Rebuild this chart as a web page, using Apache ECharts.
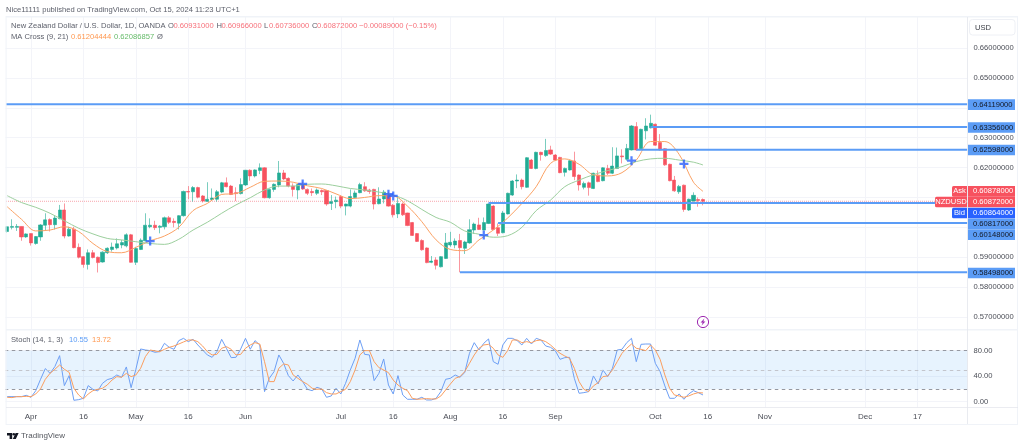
<!DOCTYPE html>
<html><head><meta charset="utf-8">
<style>html,body{margin:0;padding:0;background:#fff}#c{width:1024px;height:447px}</style>
<script src="https://cdn.jsdelivr.net/npm/echarts@6/dist/echarts.min.js"></script></head>
<body><div id="c"></div><script>
const opens=[.5986,.6000,.6000,.6003,.5968,.5979,.5946,.5968,.6007,.6026,
.6009,.6029,.6058,.5971,.5994,.5933,.5902,.5876,.5915,.5900,
.5884,.5915,.5926,.5931,.5941,.5938,.5975,.5883,.5926,.5955,
.6002,.6007,.6000,.6002,.6032,.6020,.6014,.6039,.6120,.6119,
.6133,.6105,.6087,.6093,.6094,.6118,.6149,.6138,.6116,.6113,
.6142,.6191,.6172,.6190,.6199,.6099,.6127,.6142,.6182,.6164,
.6138,.6125,.6143,.6127,.6120,.6114,.6123,.6123,.6080,.6086,
.6103,.6071,.6071,.6100,.6116,.6136,.6125,.6127,.6079,.6095,
.6108,.6074,.6045,.6078,.6048,.6016,.5979,.5956,.5931,.5883,
.5891,.5868,.5896,.5941,.5941,.5956,.5930,.5948,.5991,.6008,
.5991,.6013,.6071,.5999,.5982,.6045,.6108,.6155,.6158,.6134,
.6225,.6197,.6251,.6240,.6259,.6242,.6234,.6184,.6192,.6222,
.6175,.6134,.6149,.6130,.6175,.6156,.6197,.6181,.6197,.6239,
.6228,.6259,.6337,.6263,.6323,.6333,.6345,.6284,.6263,.6211,
.6158,.6119,.6141,.6058,.6088,.6093,.60931];
const closes=[.6002,.6003,.6003,.5968,.5978,.5948,.5969,.6008,.6025,.6009,
.6031,.6058,.5971,.5994,.5932,.5900,.5876,.5915,.5899,.5882,
.5917,.5930,.5934,.5945,.5949,.5975,.5883,.5929,.5957,.6007,
.6007,.5999,.6004,.6032,.6017,.6016,.6039,.6120,.6118,.6133,
.6101,.6088,.6094,.6098,.6119,.6149,.6136,.6110,.6113,.6143,
.6191,.6172,.6192,.6199,.6099,.6127,.6144,.6182,.6162,.6138,
.6127,.6143,.6128,.6114,.6116,.6125,.6119,.6078,.6086,.6091,
.6071,.6078,.6103,.6115,.6143,.6122,.6120,.6078,.6095,.6118,
.6071,.6042,.6080,.6042,.6006,.5973,.5953,.5925,.5882,.5887,
.5873,.5902,.5948,.5950,.5954,.5932,.5951,.5992,.6011,.5993,
.6016,.6078,.5993,.5980,.6048,.6114,.6155,.6158,.6136,.6233,
.6197,.6251,.6243,.6257,.6245,.6225,.6183,.6197,.6223,.6170,
.6142,.6147,.6133,.6181,.6153,.6199,.6181,.6205,.6239,.6236,
.6264,.6339,.6259,.6328,.6339,.6348,.6275,.6259,.6209,.6156,
.6122,.6137,.6060,.6094,.6107,.6090,.60872];
const highs=[.6004,.6027,.6011,.6004,.5980,.5980,.5971,.6011,.6047,.6030,
.6041,.6075,.6080,.6002,.6002,.5946,.5904,.5926,.5924,.5902,
.5920,.5933,.5949,.5963,.5958,.5980,.5978,.5935,.5963,.6047,
.6030,.6022,.6007,.6036,.6038,.6030,.6041,.6123,.6138,.6138,
.6136,.6108,.6151,.6130,.6125,.6152,.6167,.6142,.6134,.6164,
.6192,.6194,.6194,.6214,.6201,.6130,.6147,.6222,.6192,.6167,
.6147,.6147,.6153,.6130,.6130,.6130,.6127,.6125,.6108,.6103,
.6108,.6079,.6127,.6123,.6149,.6151,.6129,.6129,.6134,.6125,
.6119,.6078,.6103,.6083,.6049,.6018,.5981,.5960,.5933,.5904,
.5900,.5904,.5981,.5985,.5963,.5978,.5955,.6027,.6016,.6032,
.6033,.6080,.6074,.6013,.6055,.6116,.6158,.6177,.6163,.6235,
.6229,.6253,.6253,.6296,.6273,.6245,.6236,.6200,.6225,.6253,
.6177,.6153,.6153,.6183,.6190,.6201,.6209,.6268,.6267,.6261,
.6279,.6342,.6352,.6330,.6365,.6377,.6347,.6312,.6265,.6213,
.6172,.6142,.6143,.6096,.6117,.6100,.60966];
const lows=[.5982,.5993,.5988,.5955,.5965,.5939,.5942,.5955,.5991,.5986,
.5993,.6027,.5963,.5969,.5930,.5896,.5865,.5859,.5896,.5849,
.5882,.5911,.5919,.5926,.5930,.5933,.5882,.5874,.5924,.5953,
.5997,.5991,.5980,.5993,.6011,.6000,.5993,.6036,.6094,.6086,
.6097,.6083,.6085,.6089,.6086,.6114,.6134,.6108,.6088,.6110,
.6138,.6156,.6167,.6178,.6097,.6096,.6119,.6134,.6158,.6134,
.6103,.6094,.6125,.6108,.6105,.6108,.6108,.6072,.6058,.6064,
.6064,.6040,.6067,.6097,.6114,.6119,.6112,.6060,.6077,.6080,
.6069,.6033,.6031,.6038,.6004,.5971,.5951,.5922,.5880,.5880,
.5859,.5866,.5894,.5935,.5930,.58498,.5911,.5945,.5978,.5991,
.5990,.6011,.5991,.5971,.5980,.6043,.6105,.6131,.6127,.6132,
.6195,.6194,.6223,.6236,.6242,.6223,.6181,.6170,.6190,.6158,
.6123,.6127,.6106,.6128,.6151,.6154,.6175,.6178,.6195,.6214,
.6223,.6257,.6257,.6261,.6294,.6331,.6273,.6257,.6206,.6154,
.6119,.6112,.6052,.6055,.6086,.6069,.60736];
const maBars=[0,3,6,9,12,15,18,21,24,27,30,33,36,39,42,45,48,51,54,57,60,63,66,69,72,75,78,81,84,87,90,93,96,99,102,105,108,111,114,117,120,123,126,129,132,135,138,141,144,146];
const maFast=[.6069,.6027,.5988,.5991,.6002,.5986,.5946,.5919,.5915,.5933,
.5955,.5971,.6000,.6056,.6080,.6110,.6113,.6134,.6154,.6155,
.6151,.6139,.6130,.6112,.6096,.6100,.6106,.6105,.6071,.6019,
.5958,.5926,.5922,.5958,.5991,.6031,.6080,.6136,.6214,.6229,
.6211,.6176,.6172,.6183,.6225,.6287,.6287,.6244,.6151,.61204];
const maSlow=[.6106,.6083,.6067,.6047,.6022,.5997,.5978,.5963,.5958,.5952,
.5946,.5943,.5960,.5991,.6017,.6047,.6075,.6099,.6125,.6138,
.6138,.6144,.6145,.6139,.6130,.6125,.6118,.6108,.6089,.6060,
.6033,.6017,.5988,.5977,.5967,.5972,.6000,.6056,.6091,.6136,
.6158,.6176,.6190,.6203,.6220,.6229,.6231,.6225,.6218,.62087];
const stochK=[7.9,7.9,7.9,7.9,10,6.9,17.3,35.1,51.9,44.5,55,72.2,25.2,40.9,2.2,3.2,5.3,25.2,19.4,16.8,
28.8,34.6,36.7,41.9,38.3,54.5,22,50.8,82.7,81.1,80.1,77.5,78.5,91.6,85.3,82.2,95.8,99.4,94.2,97.9,
89,81.1,73.3,69.6,78.5,97.9,83.8,69.1,69.6,82.7,99.4,82.2,95.8,89,15.8,36.7,47.2,73.3,60.2,40.9,
32.5,41.9,31.5,19.4,17.3,22.6,20,6.9,9,21,
12.1,28.8,49.8,68.1,96.8,74.3,73.3,33,44.5,67,26.2,12.1,40.9,10.5,3.8,3.8,3.8,6.9,2.7,2.7,
5.3,15.8,35.1,36.7,41.9,38.3,45.6,75.9,92.6,81.1,91.6,98.4,62.8,58.7,89,99.4,99.4,95.8,89,99.4,
90.5,99.4,96.8,87.4,85.3,80.1,66.5,69.1,69.6,36.7,13.2,14.2,15.8,40.4,27.8,49.8,39.3,52.4,81.1,82.2,
92.6,99.4,62.8,90,90.5,90.5,60.2,47.2,24.7,5.3,5.3,12.1,3.8,12.1,17.3,14.2,10.55];
const stochD=[6.9,6.4,7.9,7.9,8.4,7.9,12.1,20,35.1,44.5,50.8,57.6,50.8,46.1,21,10.5,4.3,12.1,17.3,19.4,
21,26.2,34,39.3,38.3,44.5,39.3,41.9,52.4,70.7,81.1,79.6,78.5,82.2,85.3,87.4,90.5,93.7,96.8,96.8,
94.2,87.4,78.5,73.3,74.3,83.8,86.4,82.2,73.3,74.3,83.8,89,92.6,90.5,62.8,31.5,31.5,52.4,59.2,57.6,
41.9,36.7,31.5,27.3,21,19.4,20,14.2,12.1,12.1,
15.8,19.4,31.5,49.8,73.3,80.1,80.1,62.8,53.4,49.8,45.6,34,26.2,21,17.3,5.3,3.8,4.3,4.8,4.3,
4.3,9,18.4,27.8,36.7,39.3,47.2,60.2,73.3,83.8,89,90,83.8,73.3,69.6,80.1,96.8,96.8,92.6,94.2,
92.6,95.8,96.8,94.2,89,82.2,75.9,71.7,68.1,52.4,31.5,19.4,15.8,24.7,29.9,39.3,40.4,49.8,62.8,75.9,
83.8,90.5,83.8,82.2,80.1,89,81.1,66.5,41.9,21,10.5,9,6.9,9,12.1,14.2,13.72];
const crossBars=[30,62,80,81,100,131,142];
const crossPrices=[.5954,.6145,.6111,.6105,.5974,.6223,.6212];
const rayPrices=[.64119,.63356,.62598,.60817,.60148,.58498];
const rayStarts=[-0.25,135,132,101,103,95];
const priceTicks=[.57,.58,.59,.60,.61,.62,.63,.64,.65,.66];
const hiddenPriceTicks=[.60,.61,.64];
const stochTicks=[0,40,80];
const timeLabels={'2024-04-01':'Apr','2024-04-16':'16','2024-05-01':'May','2024-05-16':'16','2024-06-03':'Jun','2024-07-01':'Jul','2024-07-16':'16','2024-08-01':'Aug','2024-08-16':'16','2024-09-02':'Sep','2024-10-01':'Oct','2024-10-16':'16','2024-11-01':'Nov','2024-12-02':'Dec','2024-12-17':'17'};

[opens,closes,highs,lows,stochK,stochD].forEach(a=>{if(a.length!==147)throw new Error('len '+a.length)});
if(maFast.length!==maBars.length||maSlow.length!==maBars.length)throw new Error('ma');

const categories=[];
for(let d=new Date(Date.UTC(2024,2,25));categories.length<202;d=new Date(d.getTime()+864e5)){
  const w=d.getUTCDay(); if(w===0||w===6)continue; categories.push(d.toISOString().slice(0,10));
}
const FONT='"Liberation Sans",Arial,sans-serif';
const GREEN='#22ab94',RED='#f7525f',HEADRED='#f7707a',LINE='#5b9cf6',GRID='#f3f4f9',BORDER='#e4e6ed',TXT='#5d606b';
const isTick=(i,v)=>timeLabels[v]!==undefined;
const candles=opens.map((o,i)=>[o,closes[i],lows[i],highs[i]]);

const G=[];
const txt=(x,y,t,fill,size=7.6,align='left',weight='normal')=>G.push({type:'text',silent:true,z:50,style:{x,y,text:t,fill,font:weight+' '+size+'px '+FONT,textAlign:align,textVerticalAlign:'middle'}});
const rect=(x,y,w,h,fill,r=0,stroke)=>G.push({type:'rect',silent:true,z:40,shape:{x,y,width:w,height:h,r},style:{fill,stroke}});

// frame
rect(0,0,5.5,447,'#fff');
rect(6,16,1012,1.6,'#f0f3f8');rect(6,329,1012,1.6,'#f0f3f8');
rect(5.6,16,1,409,'#f0f3f8');rect(1017,16,1,409,'#f0f3f8');rect(6,424,1012,1,'#f0f3f8');
rect(967,17,.8,407,BORDER);rect(6,407,1012,.8,BORDER);

txt(6,9.5,'Nice11111 published on TradingView.com, Oct 15, 2024 11:23 UTC+1',TXT);
txt(11,26,'New Zealand Dollar / U.S. Dollar, 1D, OANDA',TXT);
[[168,'O',173.5,'0.60931000'],[216.5,'H',221.5,'0.60966000'],[264,'L',269,'0.60736000'],[312,'C',317,'0.60872000']].forEach(a=>{txt(a[0],26,a[1],TXT);txt(a[2],26,a[3],HEADRED);});
txt(359,26,'\u22120.00089000 (\u22120.15%)',HEADRED);
txt(11,37,'MA Cross (9, 21)',TXT);txt(71,37,'0.61204444','#ff9850');txt(114,37,'0.62086857','#66bb6a');txt(157,37,'\u00d8',TXT);
txt(11,340,'Stoch (14, 1, 3)',TXT);txt(69,340,'10.55',LINE);txt(92,340,'13.72','#ff9850');
txt(21,436,'TradingView','#55585f',8);

// USD box
rect(969.5,19.5,45.5,15.5,'#fff',3,'#eef0f5');txt(975,28,'USD','#3a3d45',7.6);

// right badges
const badge=(yc,t,bg,fg)=>{rect(968,yc-5.3,47,10.6,bg);txt(973,yc,t,fg,7.6);};
[[104.6,'0.64119000'],[127.5,'0.63356000'],[150,'0.62598000'],[223.8,'0.60817000'],[234.6,'0.60148000'],[273,'0.58498000']].forEach(a=>badge(a[0],a[1],LINE,'#131722'));
badge(191.4,'0.60878000',RED,'#fff');badge(202,'0.60872000',RED,'#fff');badge(213,'0.60864000','#2962ff','#fff');
const flag=(x,yc,t,bg)=>{rect(x,yc-5.3,967-x,10.6,bg,[1.5,0,0,1.5]);txt((x+967)/2,yc,t,'#fff',7.6,'center');};
flag(952,191.4,'Ask',RED);flag(935,202,'NZDUSD',RED);flag(952,213,'Bid','#2962ff');

// logos
G.push({type:'polygon',silent:true,z:50,shape:{points:[[7,433],[12.2,433],[12.2,439],[9.6,439],[9.6,435.5],[7,435.5]]},style:{fill:'#131722'}});
G.push({type:'circle',silent:true,z:50,shape:{cx:13.8,cy:434.3,r:1.3},style:{fill:'#131722'}});
G.push({type:'polygon',silent:true,z:50,shape:{points:[[15.6,433],[18.6,433],[15.8,439],[12.8,439]]},style:{fill:'#131722'}});
G.push({type:'circle',silent:true,z:50,shape:{cx:703,cy:322,r:5.6},style:{fill:'#fff',stroke:'#9c27b0',lineWidth:1}});
G.push({type:'polygon',silent:true,z:51,shape:{points:[[704.4,318.6],[700.6,322.6],[702.7,322.6],[701.6,325.5],[705.4,321.4],[703.3,321.4]]},style:{fill:'#9c27b0'}});

const xBase={type:'category',data:categories,boundaryGap:true,axisTick:{show:false},
  axisLine:{show:false},
  splitLine:{show:true,interval:isTick,alignWithLabel:true,lineStyle:{color:GRID,width:1}}};

const option={animation:false,backgroundColor:'#fff',textStyle:{fontFamily:FONT},
 grid:[{left:4.8,top:17,width:962.7,height:312},{left:4.8,top:331,width:962.7,height:76.3}],
 xAxis:[
  Object.assign({},xBase,{gridIndex:0,axisLabel:{show:false,interval:isTick}}),
  Object.assign({},xBase,{gridIndex:1,axisLabel:{show:true,interval:isTick,margin:5,fontSize:8,color:'#4a4d56',fontFamily:FONT,formatter:v=>timeLabels[v]||''}}),
  {type:'value',gridIndex:0,min:-0.5,max:201.5,show:false,splitLine:{show:false}}
 ],
 yAxis:[
  {type:'value',gridIndex:0,position:'right',min:0.56599,max:0.67037,scale:true,axisLine:{show:false},
   axisTick:{show:false,customValues:priceTicks},
   axisLabel:{customValues:priceTicks,margin:6,fontSize:7.6,color:'#4a4d56',fontFamily:FONT,showMinLabel:true,showMaxLabel:true,
     formatter:v=>hiddenPriceTicks.some(h=>Math.abs(h-v)<1e-6)?'':v.toFixed(8)},
   splitLine:{show:true,lineStyle:{color:GRID,width:1}}},
  {type:'value',gridIndex:1,position:'right',min:-8.8,max:110.9,axisLine:{show:false},
   axisTick:{show:false,customValues:stochTicks},
   axisLabel:{customValues:stochTicks,margin:6,fontSize:7.6,color:'#4a4d56',fontFamily:FONT,formatter:v=>v.toFixed(2)},
   splitLine:{show:true,lineStyle:{color:GRID,width:1}}}
 ],
 series:[
  {name:'NZDUSD',type:'candlestick',xAxisIndex:0,yAxisIndex:0,barWidth:3.6,data:candles,z:3,
   itemStyle:{color:GREEN,color0:RED,borderColor:'rgba(34,171,148,.6)',borderColor0:'rgba(247,82,95,.6)',borderWidth:1}},
  {name:'Last',type:'line',xAxisIndex:2,yAxisIndex:0,showSymbol:false,silent:true,z:2,
   data:[[-0.25,closes[closes.length-1]],[201.5,closes[closes.length-1]]],
   lineStyle:{color:'#f7a5ac',type:'dotted',width:1}},
  {name:'MA9',type:'line',xAxisIndex:0,yAxisIndex:0,data:maBars.map((b,i)=>[b,maFast[i]]),smooth:.35,showSymbol:false,z:4,lineStyle:{color:'#fba265',width:1}},
  {name:'MA21',type:'line',xAxisIndex:0,yAxisIndex:0,data:maBars.map((b,i)=>[b,maSlow[i]]),smooth:.35,showSymbol:false,z:4,lineStyle:{color:'#9ccf9d',width:1}},
  {name:'Cross',type:'scatter',xAxisIndex:0,yAxisIndex:0,data:crossBars.map((b,i)=>[b,crossPrices[i]]),z:6,
   symbol:'path://M3 0h2v3h3v2h-3v3h-2v-3h-3v-2h3z',symbolSize:9,itemStyle:{color:'#2962ff'}},
 ].concat(rayPrices.map((p,i)=>({name:'ray'+i,type:'line',xAxisIndex:2,yAxisIndex:0,showSymbol:false,silent:true,z:5,
     data:[[rayStarts[i],p],[201.5,p]],lineStyle:{color:LINE,width:2}}))).concat([
  {name:'%K',type:'line',xAxisIndex:1,yAxisIndex:1,data:stochK,showSymbol:false,z:4,lineStyle:{color:'#6d9ff5',width:1},
   markArea:{silent:true,animation:false,itemStyle:{color:'rgba(33,150,243,.11)'},data:[[{yAxis:20},{yAxis:80}]]},
   markLine:{silent:true,symbol:'none',animation:false,precision:2,label:{show:false},
     data:[{yAxis:80,lineStyle:{color:'#9598a1',type:[3.5,3.5],width:1}},{yAxis:50,lineStyle:{color:'#c3c5cc',type:[3.5,3.5],width:1}},{yAxis:20,lineStyle:{color:'#9598a1',type:[3.5,3.5],width:1}}]}},
  {name:'%D',type:'line',xAxisIndex:1,yAxisIndex:1,data:stochD,showSymbol:false,z:5,lineStyle:{color:'#fb9e5f',width:1}}
 ]),
 graphic:{elements:G}
};
const chart=echarts.init(document.getElementById('c'),null,{renderer:'canvas'});
chart.setOption(option);
</script></body></html>
